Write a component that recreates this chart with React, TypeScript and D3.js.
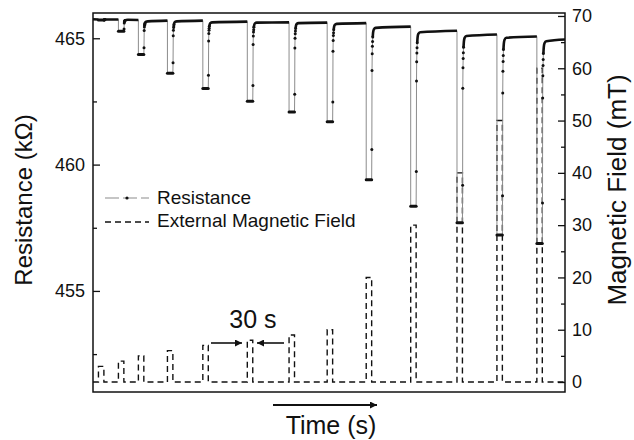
import React, { useEffect, useRef } from 'react';
import * as d3 from 'd3';

// field pulses (time in s, field in mT)
const pulseStart = [30, 140, 250, 410, 605, 850, 1080, 1290, 1505, 1750, 2005, 2225, 2445];
const pulseWidth = 30;
const fieldAmp = [3, 4, 5, 6, 7, 8, 9, 10, 20, 30, 40, 50, 60];

// resistance (kOhm): level reached during each pulse, and plateau after it
const initialLevel = [465.75, 465.74];
const dipR = [465.72, 465.28, 464.36, 463.62, 463.01, 462.51, 462.08, 461.7, 459.4, 458.35, 457.7, 457.21, 456.88];
const plateauStart = [465.74, 465.73, 465.67, 465.67, 465.63, 465.62, 465.6, 465.57, 465.41, 465.24, 465.09, 465.02, 464.88];
const plateauEnd = [465.74, 465.72, 465.7, 465.7, 465.66, 465.63, 465.62, 465.6, 465.46, 465.3, 465.15, 465.07, 464.95];

// recovery after the field is switched off (s after the pulse, fraction recovered)
const recoveryDt = [0, 1, 2, 3, 4, 5, 6, 8, 12, 22];
const recoveryFrac = [0, 0.2, 0.72, 0.83, 0.88, 0.91, 0.94, 0.97, 0.99, 1];

const timeEnd = 2600;
const leftTicks = [455, 460, 465];
const leftMinor = [452.5, 457.5, 462.5];
const rightTicks = [0, 10, 20, 30, 40, 50, 60, 70];
const rightMinor = [5, 15, 25, 35, 45, 55, 65];

const FONT = "'Liberation Sans', Arial, Helvetica, sans-serif";

const App = () => {
  const ref = useRef<SVGSVGElement | null>(null);

  useEffect(() => {
    const svg = d3.select(ref.current);
    svg.selectAll('*').remove();

    const W = 634, H = 440;
    const margin = { top: 13, right: 69, bottom: 48, left: 93 };
    const x0 = margin.left, x1 = W - margin.right;
    const y0 = margin.top, y1 = H - margin.bottom;

    const x = d3.scaleLinear().domain([0, timeEnd]).range([x0, x1]);
    const yR = d3.scaleLinear().domain([451, 466]).range([y1, y0]);
    const yB = d3.scaleLinear().domain([-1.91, 70.57]).range([y1, y0]);

    svg.attr('width', W).attr('height', H).style('font-family', FONT);

    // --- build traces ---
    const field: [number, number][] = [[0, 0]];
    pulseStart.forEach((ts, i) => {
      const te = ts + pulseWidth;
      field.push([ts, 0], [ts, fieldAmp[i]], [te, fieldAmp[i]], [te, 0]);
    });
    field.push([timeEnd, 0]);

    const trace: [number, number][] = [[0, initialLevel[0]]];
    const thick: [number, number][][] = [];
    const bottoms: [number, number][][] = [];
    const dots: [number, number][] = [];
    let seg: [number, number][] = [[0, initialLevel[0]]];
    pulseStart.forEach((ts, i) => {
      const te = ts + pulseWidth;
      const before = i === 0 ? initialLevel[1] : plateauEnd[i - 1];
      trace.push([ts, before], [ts, dipR[i]], [te, dipR[i]]);
      seg.push([ts, before]);
      thick.push(seg);
      bottoms.push([[ts, dipR[i]], [te, dipR[i]]]);
      seg = [];
      recoveryDt.forEach((dt, k) => {
        const p: [number, number] = [te + dt, dipR[i] + recoveryFrac[k] * (plateauStart[i] - dipR[i])];
        trace.push(p);
        if (k > 0 && k < 7) dots.push(p);
        if (recoveryFrac[k] >= 0.94) seg.push(p);
      });
    });
    const last = plateauEnd[plateauEnd.length - 1];
    trace.push([timeEnd, last]);
    seg.push([timeEnd, last]);
    thick.push(seg);

    const lineR = d3.line<[number, number]>().x(d => x(d[0])).y(d => yR(d[1]));
    const lineB = d3.line<[number, number]>().x(d => x(d[0])).y(d => yB(d[1]));

    const plot = svg.append('g');
    plot.append('path').attr('d', lineB(field)).attr('fill', 'none')
      .attr('stroke', '#111').attr('stroke-width', 1.4).attr('stroke-dasharray', '6,4');
    plot.append('path').attr('d', lineR(trace)).attr('fill', 'none')
      .attr('stroke', '#8c8c8c').attr('stroke-width', 1);
    thick.forEach(s => {
      plot.append('path').attr('d', d3.line<[number, number]>().x(d => x(d[0])).y(d => yR(d[1])).curve(d3.curveMonotoneX)(s))
        .attr('fill', 'none')
        .attr('stroke', '#111').attr('stroke-width', 2.6).attr('stroke-linejoin', 'round');
    });
    bottoms.forEach(s => {
      plot.append('path').attr('d', lineR(s)).attr('fill', 'none')
        .attr('stroke', '#111').attr('stroke-width', 3).attr('stroke-linecap', 'round');
    });
    plot.selectAll('.dot').data(dots).enter().append('circle')
      .attr('cx', d => x(d[0])).attr('cy', d => yR(d[1])).attr('r', 1.5).attr('fill', '#111');

    // --- axes ---
    const styleAxis = (g: any) => {
      g.select('.domain').remove();
      g.selectAll('line').attr('stroke', '#111').attr('stroke-width', 1.3);
      g.selectAll('text').attr('fill', '#111').style('font-size', '18px').style('font-family', FONT);
    };
    svg.append('g').attr('transform', `translate(${x0},0)`)
      .call(d3.axisLeft(yR).tickValues(leftTicks).tickSize(-7).tickPadding(8).tickFormat(d3.format('d')))
      .call(styleAxis);
    svg.append('g').attr('transform', `translate(${x0},0)`)
      .call(d3.axisLeft(yR).tickValues(leftMinor).tickSize(-4).tickFormat(() => ''))
      .call(styleAxis);
    svg.append('g').attr('transform', `translate(${x1},0)`)
      .call(d3.axisRight(yB).tickValues(rightTicks).tickSize(-7).tickPadding(7).tickFormat(d3.format('d')))
      .call(styleAxis);
    svg.append('g').attr('transform', `translate(${x1},0)`)
      .call(d3.axisRight(yB).tickValues(rightMinor).tickSize(-4).tickFormat(() => ''))
      .call(styleAxis);

    svg.append('rect').attr('x', x0).attr('y', y0).attr('width', x1 - x0).attr('height', y1 - y0)
      .attr('fill', 'none').attr('stroke', '#111').attr('stroke-width', 1.5);

    // --- titles ---
    svg.append('text').attr('transform', 'translate(32,200) rotate(-90)')
      .attr('text-anchor', 'middle').style('font-size', '24px').attr('fill', '#111')
      .text('Resistance (kΩ)');
    svg.append('text').attr('transform', 'translate(626,190) rotate(-90)')
      .attr('text-anchor', 'middle').style('font-size', '26px').attr('fill', '#111')
      .text('Magnetic Field (mT)');
    svg.append('text').attr('x', 331).attr('y', 434)
      .attr('text-anchor', 'middle').style('font-size', '25px').attr('fill', '#111')
      .text('Time (s)');

    // arrows
    const defs = svg.append('defs');
    defs.append('marker').attr('id', 'ah').attr('viewBox', '0 0 10 10')
      .attr('refX', 10).attr('refY', 5).attr('markerWidth', 9).attr('markerHeight', 7)
      .attr('markerUnits', 'userSpaceOnUse').attr('orient', 'auto')
      .append('path').attr('d', 'M0,0L10,5L0,10Z').attr('fill', '#111');

    const arrow = (xa: number, xb: number, y: number, w: number) =>
      svg.append('line').attr('x1', xa).attr('x2', xb).attr('y1', y).attr('y2', y)
        .attr('stroke', '#111').attr('stroke-width', w).attr('marker-end', 'url(#ah)');
    arrow(273, 377, 405, 2);
    arrow(211, 242, 343, 1.6);
    arrow(284, 257, 343, 1.6);

    svg.append('text').attr('x', 253).attr('y', 328)
      .attr('text-anchor', 'middle').style('font-size', '25px').attr('fill', '#111')
      .text('30 s');

    // --- legend ---
    const lg = svg.append('g');
    lg.append('line').attr('x1', 105).attr('x2', 149).attr('y1', 198).attr('y2', 198)
      .attr('stroke', '#8c8c8c').attr('stroke-width', 1.2).attr('stroke-dasharray', '14,4');
    lg.append('circle').attr('cx', 127).attr('cy', 198).attr('r', 1.6).attr('fill', '#111');
    lg.append('text').attr('x', 157).attr('y', 204).style('font-size', '19px').attr('fill', '#111')
      .text('Resistance');
    lg.append('line').attr('x1', 105).attr('x2', 149).attr('y1', 222).attr('y2', 222)
      .attr('stroke', '#111').attr('stroke-width', 1.4).attr('stroke-dasharray', '6,4');
    lg.append('text').attr('x', 157).attr('y', 227).style('font-size', '19px').attr('fill', '#111')
      .text('External Magnetic Field');
  }, []);

  return (
    <div style={{ position: 'fixed', left: 0, top: 0, background: '#fff' }}>
      <svg ref={ref} />
    </div>
  );
};

export default App;
